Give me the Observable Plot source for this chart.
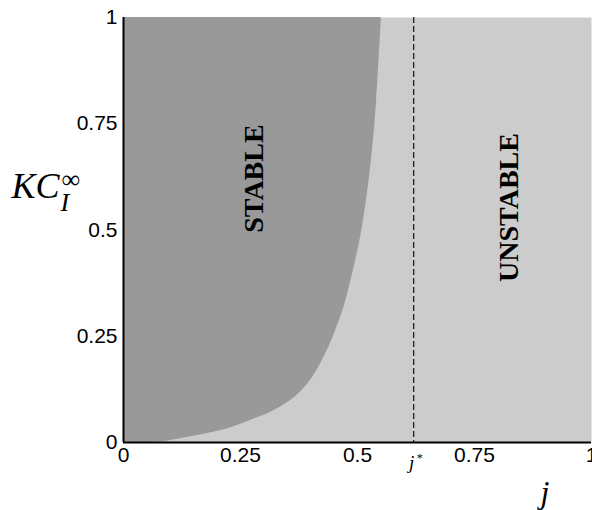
<!DOCTYPE html>
<html>
<head>
<meta charset="utf-8">
<script src="https://cdn.jsdelivr.net/npm/d3@7"></script>
<script src="https://cdn.jsdelivr.net/npm/@observablehq/plot@0.6"></script>
<style>
  html, body { margin: 0; padding: 0; background: #fff; }
  #chart svg { display: block; }
</style>
</head>
<body>
<div id="chart"></div>
<script>
// Stability boundary: KC_I^inf values and boundary j values
const kValues = [0, 0.002, 0.009, 0.021, 0.035, 0.052, 0.075, 0.099, 0.122, 0.146, 0.169, 0.200, 0.240, 0.280, 0.318, 0.358, 0.492, 0.647, 0.805, 1];
const jBoundary = [0.06, 0.083, 0.122, 0.179, 0.229, 0.271, 0.321, 0.357, 0.381, 0.399, 0.413, 0.428, 0.445, 0.459, 0.471, 0.481, 0.508, 0.528, 0.541, 0.551];
const jStar = 0.62;
const xTicks = [0, 0.25, 0.5, 0.75, 1];
const yTicks = [0, 0.25, 0.5, 0.75, 1];
const regionLabels = ["STABLE", "UNSTABLE"];
const regionJ = [0.278, 0.823];
const regionK = [0.621, 0.553];

const boundary = kValues.map((k, i) => ({K: k, j: jBoundary[i]}));
const regions = regionLabels.map((t, i) => ({text: t, j: regionJ[i], K: regionK[i]}));

const sans = "Liberation Sans, Arial, sans-serif";
const serif = "Liberation Serif, Times New Roman, serif";
const fmt = d => String(d);

const chart = Plot.plot({
  width: 592,
  height: 510,
  marginLeft: 123,
  marginRight: 1,
  marginTop: 17,
  marginBottom: 68,
  style: {background: "#fff", color: "#000"},
  x: {domain: [0, 1]},
  y: {domain: [0, 1]},
  marks: [
    Plot.frame({fill: "#cccccc", stroke: null}),
    Plot.areaX(boundary, {y: "K", x1: 0, x2: "j", fill: "#999999", curve: "catmull-rom"}),
    Plot.ruleX([jStar], {stroke: "#222", strokeWidth: 1.3, strokeDasharray: "6,3"}),
    Plot.ruleX([0], {stroke: "#000", strokeWidth: 2}),
    Plot.ruleY([0], {stroke: "#000", strokeWidth: 2}),
    Plot.axisY({ticks: yTicks, tickFormat: fmt, tickSize: 0, tickPadding: 6, fontSize: 21, fontFamily: sans, label: null}),
    Plot.axisX({ticks: xTicks, tickFormat: fmt, tickSize: 0, tickPadding: 5, fontSize: 21, fontFamily: sans, label: null}),
    Plot.text(regions, {x: "j", y: "K", text: "text", rotate: -90, fontSize: 28, fontWeight: "bold", fontFamily: serif, fill: "#000"}),
    // j* tick label
    Plot.text([jStar], {x: d => d, frameAnchor: "bottom", text: () => "j", lineAnchor: "bottom", dy: 26, dx: -2, fontSize: 19, fontStyle: "italic", fontFamily: serif, fill: "#000"}),
    Plot.text([jStar], {x: d => d, frameAnchor: "bottom", text: () => "*", lineAnchor: "bottom", textAnchor: "start", dy: 19, dx: 3, fontSize: 12, fontFamily: serif, fill: "#000"}),
    // x axis label
    Plot.text(["j"], {frameAnchor: "bottom-right", text: d => d, lineAnchor: "bottom", dx: -42, dy: 60, fontSize: 32, fontStyle: "italic", fontFamily: serif, fill: "#000"}),
    // y axis label KC_I^inf
    Plot.text(["KC"], {frameAnchor: "top-left", text: d => d, textAnchor: "start", lineAnchor: "bottom", dx: -112, dy: 180, fontSize: 36, fontStyle: "italic", fontFamily: serif, fill: "#000"}),
    Plot.text(["\u221E"], {frameAnchor: "top-left", text: d => d, textAnchor: "start", lineAnchor: "bottom", dx: -62, dy: 170, fontSize: 26, fontFamily: serif, fill: "#000"}),
    Plot.text(["I"], {frameAnchor: "top-left", text: d => d, textAnchor: "start", lineAnchor: "bottom", dx: -63, dy: 193, fontSize: 26, fontStyle: "italic", fontFamily: serif, fill: "#000"})
  ]
});
document.getElementById("chart").appendChild(chart);
</script>
</body>
</html>
